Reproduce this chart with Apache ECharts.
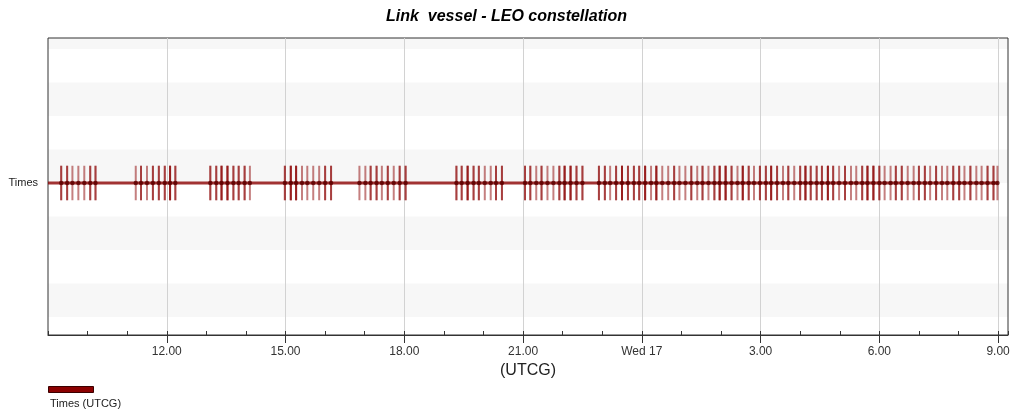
<!DOCTYPE html>
<html><head><meta charset="utf-8">
<script src="https://cdn.jsdelivr.net/npm/echarts@6/dist/echarts.min.js"></script>
<style>html,body{margin:0;padding:0;background:#fff}#c{width:1013px;height:411px}</style>
</head><body><div id="c"></div>
<script>
// ---------- data ----------
const chartTitle = 'Link  vessel - LEO constellation';
const rowLabels = ['Times'];
const legendLabel = 'Times (UTCG)';
const axisTitle = '(UTCG)';

// report interval, hours from 00:00 Tue 16
const reportStartHour = 9;    // Tue 16 09:00
const reportEndHour = 33;     // Wed 17 09:00
const axisMinHour = 9;
const axisMaxHour = 33.25;

// major tick positions (hours from Tue 16 00:00) and their labels
const tickHours = [12, 15, 18, 21, 24, 27, 30, 33];
const tickLabels = ['12.00', '15.00', '18.00', '21.00', 'Wed 17', '3.00', '6.00', '9.00'];

// access boundary times on Tue 16 (HH:MM) and how many coincide at each
const day16Times = [
  '09:20','09:29','09:37','09:46','09:55','10:04','10:12',
  '11:13','11:21','11:30','11:39','11:48','11:57','12:05','12:13',
  '13:06','13:15','13:23','13:32','13:41','13:49','13:58','14:06',
  '14:59','15:08','15:16','15:25','15:33','15:42','15:51','16:00','16:09',
  '16:52','17:01','17:09','17:18','17:26','17:35','17:44','17:53','18:02',
  '19:19','19:27','19:36','19:45','19:53','20:02','20:11','20:19','20:28',
  '21:03','21:11','21:20','21:28','21:37','21:46','21:55','22:03','22:12','22:21','22:30',
  '22:55','23:04','23:12','23:21','23:30','23:39','23:48','23:56'
];
const day16Counts = [
  2,2,1,1,1,2,2,
  1,2,1,2,2,2,3,2,
  2,2,3,3,2,2,2,1,
  2,3,3,1,1,1,1,2,2,
  1,1,2,2,1,2,1,2,2,
  2,2,3,2,2,1,1,2,2,
  2,2,1,2,1,1,2,3,3,2,2,
  2,2,1,2,3,2,2,2
];
// access boundary times on Wed 17 (HH:MM)
const day17Times = [
  '00:05','00:14','00:22','00:31','00:40','00:49','00:57',
  '01:06','01:15','01:24','01:32','01:41','01:50','01:58',
  '02:07','02:16','02:25','02:33','02:42','02:50','02:59',
  '03:08','03:16','03:25','03:34','03:42','03:51',
  '04:00','04:08','04:16','04:25','04:33','04:42','04:50','04:59',
  '05:08','05:17','05:25','05:34','05:42','05:51',
  '06:00','06:08','06:17','06:25','06:34','06:43','06:52',
  '07:00','07:09','07:17','07:26','07:35','07:43','07:52',
  '08:01','08:09','08:18','08:27','08:35','08:44','08:53','08:59'
];
const day17Counts = [
  3,1,3,1,1,2,1,
  1,2,1,2,1,2,3,
  3,2,1,3,2,1,2,
  2,3,2,1,2,1,
  2,3,2,2,2,3,2,1,
  2,1,1,2,3,3,
  2,1,1,2,2,1,1,
  2,2,1,2,1,1,2,
  2,1,2,1,1,2,2,1
];

// ---------- build ----------
function toHour(s, day) { const p = s.split(':').map(Number); return day * 24 + p[0] + p[1] / 60; }
const tickMarks = [], dots = [];
day16Times.forEach((t, i) => { const h = toHour(t, 0); dots.push([h, 0]); for (let k = 0; k < day16Counts[i]; k++) tickMarks.push([h, 0]); });
day17Times.forEach((t, i) => { const h = toHour(t, 1); dots.push([h, 0]); for (let k = 0; k < day17Counts[i]; k++) tickMarks.push([h, 0]); });

const FONT = 'Liberation Sans, Arial, sans-serif';
const chart = echarts.init(document.getElementById('c'), null, { renderer: 'canvas' });
chart.setOption({
  animation: false,
  backgroundColor: '#fff',
  title: [
    { text: chartTitle, left: 'center', top: 4,
      textStyle: { fontFamily: FONT, fontSize: 16, fontWeight: 'bold', fontStyle: 'italic', color: '#000' } },
    { text: legendLabel, left: 45, top: 393,
      textStyle: { fontFamily: FONT, fontSize: 11, fontWeight: 'normal', color: '#222' } }
  ],
  legend: {
    left: 43, top: 381, itemWidth: 45, itemHeight: 6, icon: 'rect',
    data: [legendLabel], formatter: () => '', selectedMode: false,
    itemStyle: { borderColor: '#3a0000', borderWidth: 1 }
  },
  grid: [
    { left: 48, right: 5, top: 38, bottom: 76, show: true, borderColor: '#333', borderWidth: 1, backgroundColor: 'transparent' },
    { left: 48, right: 5, top: 38, bottom: 60.5, show: false }
  ],
  xAxis: [
    { gridIndex: 0, type: 'value', min: axisMinHour, max: axisMaxHour, interval: 3, position: 'bottom',
      axisLine: { show: true, onZero: false, lineStyle: { color: '#333', width: 1 } },
      axisTick: { show: true, length: 8, customValues: tickHours, lineStyle: { color: '#333' } },
      axisLabel: { margin: 11, fontSize: 12, color: '#333', fontFamily: FONT,
        formatter: v => { const i = tickHours.findIndex(t => Math.abs(t - v) < 1e-6); return i >= 0 ? tickLabels[i] : ''; } },
      splitLine: { show: true, lineStyle: { color: '#d2d2d2', width: 1 } },
      name: axisTitle, nameLocation: 'middle', nameGap: 27,
      nameTextStyle: { fontSize: 16, color: '#222', fontFamily: FONT } },
    { gridIndex: 0, type: 'value', min: axisMinHour, max: axisMaxHour, interval: 1, position: 'bottom',
      axisLine: { show: false, onZero: false }, axisTick: { show: true, inside: true, length: 4, lineStyle: { color: '#333' } },
      axisLabel: { show: false }, splitLine: { show: false } },
    { gridIndex: 1, type: 'value', min: axisMinHour, max: axisMaxHour, show: false,
      axisLine: { onZero: false } }
  ],
  yAxis: [
    { gridIndex: 0, type: 'value', min: -4.537, max: 4.328,
      axisLine: { show: false, onZero: false }, axisTick: { show: false }, splitLine: { show: false },
      axisLabel: { customValues: [0], margin: 10, fontSize: 11, color: '#222', fontFamily: FONT,
        formatter: v => Math.abs(v) < 1e-6 ? rowLabels[0] : '' } },
    { gridIndex: 1, type: 'value', min: -5, max: 4.328, interval: 1, z: -1,
      axisLine: { show: false, onZero: false }, axisTick: { show: false }, axisLabel: { show: false }, splitLine: { show: false },
      splitArea: { show: true, areaStyle: { color: ['rgba(255,255,255,0)', '#f7f7f7'] } } }
  ],
  series: [
    { name: legendLabel, type: 'line', xAxisIndex: 0, yAxisIndex: 0,
      data: [[reportStartHour, 0], [reportEndHour, 0]], symbol: 'none', silent: true,
      lineStyle: { color: '#8b0000', width: 3, opacity: 0.8 }, itemStyle: { color: '#8b0000' }, z: 2 },
    { type: 'scatter', xAxisIndex: 0, yAxisIndex: 0, data: tickMarks, symbol: 'rect', symbolSize: [2, 34.5],
      itemStyle: { color: '#8b0000', opacity: 0.5 }, silent: true, z: 3 },
    { type: 'scatter', xAxisIndex: 0, yAxisIndex: 0, data: dots, symbol: 'circle', symbolSize: 4.5,
      itemStyle: { color: '#5a0000' }, silent: true, z: 4 }
  ]
});
</script></body></html>
